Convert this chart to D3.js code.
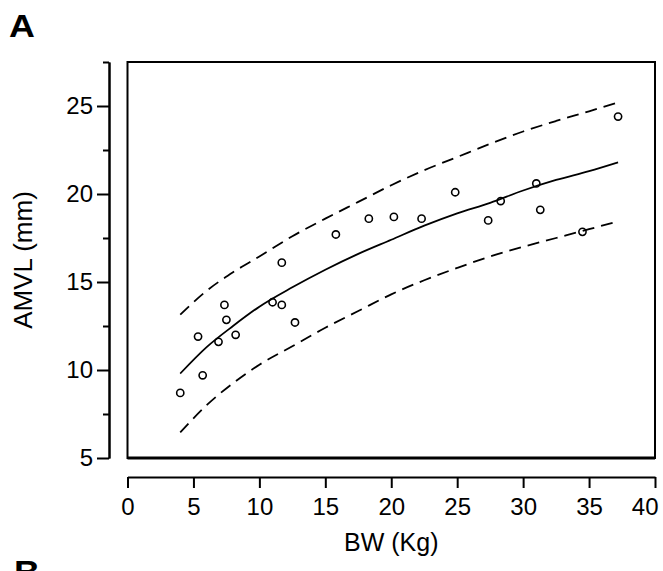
<!DOCTYPE html>
<html>
<head>
<meta charset="utf-8">
<script src="https://cdn.jsdelivr.net/npm/d3@7"></script>
<style>
  html, body { margin: 0; padding: 0; background: #fff; overflow: hidden; }
  svg { display: block; font-family: "Liberation Sans", Arial, sans-serif; }
  .axis text { font-size: 24px; fill: #000; }
  .axis path, .axis line { stroke: #000; stroke-width: 2; }
</style>
</head>
<body>
<div id="chart"></div>
<script>
/* AMVL vs body weight, with fitted curve and prediction band */

// observed points
var bw   = [4.0, 5.35, 5.7, 6.9, 7.35, 7.5, 8.2, 11.0, 11.7, 11.7, 12.7,
            15.8, 18.3, 20.2, 22.3, 24.85, 27.35, 28.3, 31.0, 31.3, 34.5, 37.2];
var amvl = [8.7, 11.9, 9.7, 11.6, 13.7, 12.85, 12.0, 13.85, 13.7, 16.1, 12.7,
            17.7, 18.6, 18.7, 18.6, 20.1, 18.5, 19.6, 20.6, 19.1, 17.85, 24.4];

// curves
var curveX = [4, 6, 8, 10, 12.5, 15, 17.5, 20, 22.5, 25, 27.5, 30, 32.5, 35, 37.2];
var fitY   = [9.8, 11.3, 12.5, 13.6, 14.7, 15.7, 16.6, 17.4, 18.2, 18.9, 19.5, 20.2, 20.8, 21.3, 21.8];
var upperY = [13.15, 14.5, 15.55, 16.45, 17.6, 18.6, 19.55, 20.5, 21.35, 22.1, 22.85, 23.55, 24.15, 24.7, 25.2];
var lowerY = [6.45, 8.0, 9.25, 10.3, 11.35, 12.4, 13.35, 14.3, 15.1, 15.8, 16.45, 17.0, 17.5, 18.0, 18.45];

var xTicks = [0, 5, 10, 15, 20, 25, 30, 35, 40];
var yTicks = [5, 10, 15, 20, 25];
var yMinor = [7.5, 12.5, 17.5, 22.5, 27.5];

var width = 663, height = 571;

var svg = d3.select("#chart").append("svg")
    .attr("width", width)
    .attr("height", height);

var x = d3.scaleLinear().domain([0, 40]).range([127.5, 655]);
var y = d3.scaleLinear().domain([5, 27.5]).range([458, 62]);

// panel letters (B belongs to the next panel, only its top shows)
svg.append("text")
    .attr("x", 9)
    .attr("y", 37)
    .style("font-size", "32px")
    .style("font-weight", "bold")
    .attr("transform", "translate(9,0) scale(1.12,1) translate(-9,0)")
    .text("A");

svg.append("text")
    .attr("x", 14)
    .attr("y", 583)
    .style("font-size", "32px")
    .style("font-weight", "bold")
    .attr("transform", "translate(14,0) scale(1.12,1) translate(-14,0)")
    .text("B");

// plot frame
svg.append("rect")
    .attr("x", x(0))
    .attr("y", y(27.5))
    .attr("width", x(40) - x(0))
    .attr("height", y(5) - y(27.5))
    .attr("fill", "none")
    .attr("stroke", "#000")
    .attr("stroke-width", 2);

svg.append("line")
    .attr("x1", x(0)).attr("x2", x(40))
    .attr("y1", y(5)).attr("y2", y(5))
    .attr("stroke", "#000")
    .attr("stroke-width", 3);

// y axis (detached, left of frame)
svg.append("g")
    .attr("class", "axis")
    .attr("transform", "translate(109,0)")
    .call(d3.axisLeft(y).tickValues(yTicks).tickSize(12).tickSizeOuter(0).tickPadding(4));

svg.append("g")
    .attr("class", "axis")
    .attr("transform", "translate(109,0)")
    .call(d3.axisLeft(y).tickValues(yMinor).tickSize(6).tickSizeOuter(0).tickFormat(""));

// x axis (detached, below frame)
var xAxis = svg.append("g")
    .attr("class", "axis")
    .attr("transform", "translate(0,477)")
    .call(d3.axisBottom(x).tickValues(xTicks).tickSize(11).tickSizeOuter(0).tickPadding(10));

// last label is pulled in so it stays inside the page
xAxis.selectAll(".tick text")
    .filter(function (d) { return d === 40; })
    .attr("text-anchor", "end")
    .attr("x", 3);

// axis titles
svg.append("text")
    .attr("x", x(20))
    .attr("y", 551)
    .attr("text-anchor", "middle")
    .style("font-size", "25px")
    .text("BW (Kg)");

svg.append("text")
    .attr("transform", "translate(32," + ((y(5) + y(27.5)) / 2) + ") rotate(-90)")
    .attr("text-anchor", "middle")
    .style("font-size", "26px")
    .text("AMVL (mm)");

// curves
var line = d3.line()
    .x(function (d) { return x(d[0]); })
    .y(function (d) { return y(d[1]); })
    .curve(d3.curveMonotoneX);

function pairs(ys) {
    return curveX.map(function (v, i) { return [v, ys[i]]; });
}

svg.append("path")
    .attr("d", line(pairs(fitY)))
    .attr("fill", "none")
    .attr("stroke", "#000")
    .attr("stroke-width", 1.8);

[upperY, lowerY].forEach(function (ys) {
    svg.append("path")
        .attr("d", line(pairs(ys)))
        .attr("fill", "none")
        .attr("stroke", "#000")
        .attr("stroke-width", 1.8)
        .attr("stroke-dasharray", "12,7");
});

// points
svg.selectAll(".pt")
    .data(bw)
    .enter().append("circle")
    .attr("class", "pt")
    .attr("cx", function (d) { return x(d); })
    .attr("cy", function (d, i) { return y(amvl[i]); })
    .attr("r", 3.6)
    .attr("fill", "none")
    .attr("stroke", "#000")
    .attr("stroke-width", 1.6);
</script>
</body>
</html>
